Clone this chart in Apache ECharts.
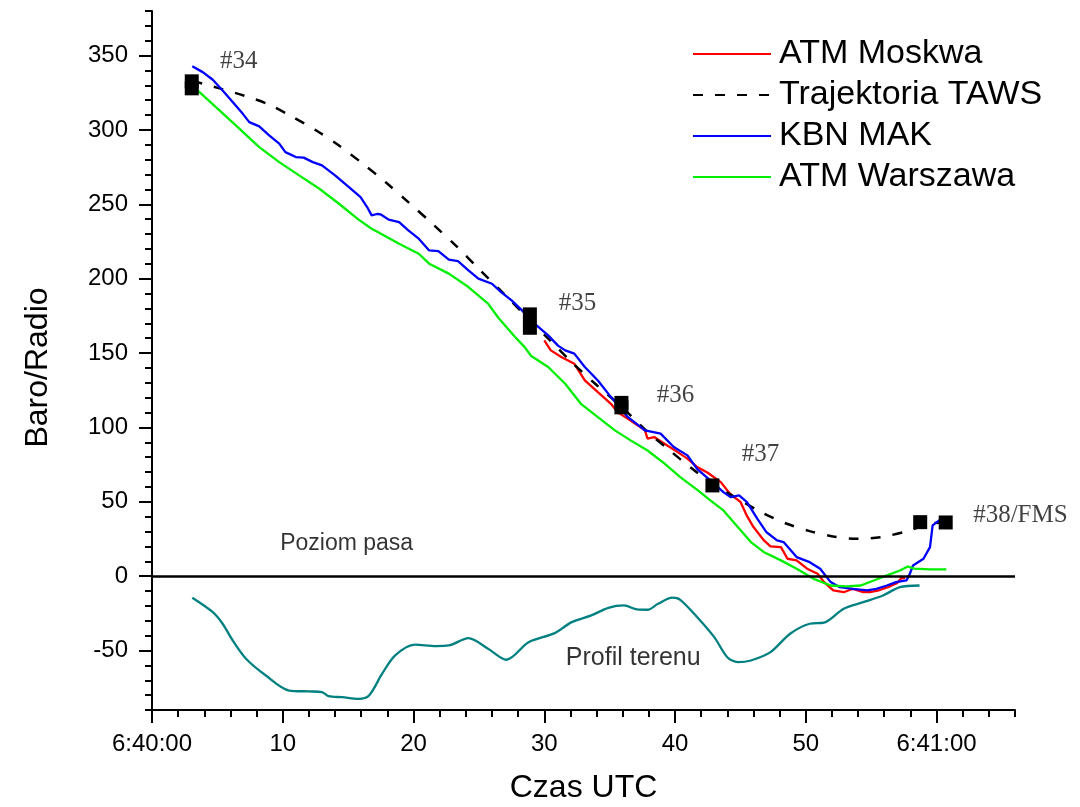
<!DOCTYPE html>
<html>
<head>
<meta charset="utf-8">
<title>Baro/Radio – Czas UTC</title>
<script src="https://cdn.jsdelivr.net/npm/echarts@6/dist/echarts.min.js"></script>
<style>
  html, body { margin: 0; padding: 0; background: #ffffff; }
  #chart { width: 1080px; height: 807px; }
</style>
</head>
<body>
<div id="chart"></div>
<script>
// Time is in seconds after 6:40:00 UTC, heights in metres.
const xTicks = [0, 10, 20, 30, 40, 50, 60];
const xTickLabels = ['6:40:00', '10', '20', '30', '40', '50', '6:41:00'];
const yTicks = [-50, 0, 50, 100, 150, 200, 250, 300, 350];

const atmMoskwa = [
  [30.0, 158.5], [30.5, 151.8], [31.3, 147.3], [32.3, 142.8], [33.1, 131.6], [34.1, 123.7],
  [35.1, 115.9], [35.6, 110.3], [36.6, 104.7], [37.7, 98], [37.9, 92.4], [38.4, 93.5],
  [39.2, 89], [40.2, 83.4], [40.95, 79], [41.7, 73.3], [42.5, 69.5], [43.5, 63.2],
  [44.2, 55.4], [45.0, 50], [45.5, 40.5], [46.0, 33], [46.8, 24], [47.3, 20],
  [48.1, 19.5], [48.6, 11.7], [49.3, 10.6], [50.1, 5], [50.9, 1.6], [51.4, -4],
  [52.1, -9.6], [52.9, -10.8], [53.6, -8.5], [54.4, -10.8], [54.9, -10.8], [55.6, -9.5],
  [56.4, -7], [57.0, -4.5], [57.3, -1.5], [57.6, -1.2]
];

const trajektoriaTaws = [
  [3.1, 333], [5.16, 328], [7.06, 323], [8.84, 317.5], [10.7, 309], [12.5, 300],
  [14.3, 289.5], [16.1, 277.5], [17.85, 265], [19.6, 251.5], [21.5, 236.5], [23.3, 221.7],
  [25.1, 205.6], [26.9, 190], [28.9, 172], [30.5, 158], [32.2, 143], [34.0, 128.5],
  [35.9, 114], [37.9, 97], [39.6, 84.5], [41.2, 73], [42.9, 62], [45.0, 51],
  [46.7, 42.5], [48.5, 35.4], [50.3, 30.3], [52.1, 26.7], [53.9, 25.1], [55.7, 26.2],
  [57.5, 29.6], [58.7, 33], [59.7, 35.5], [60.7, 36]
];

const kbnMak = [
  [3.08, 342.8], [3.88, 338.9], [4.65, 333.8], [5.4, 326.6], [6.17, 318.8], [6.93, 311],
  [7.44, 305.3], [8.2, 302.4], [8.96, 296.4], [9.73, 290.8], [10.2, 285.1], [11.0, 281.8],
  [11.6, 281.4], [12.3, 278.4], [13.0, 276.2], [14.0, 269.5], [15.06, 261.6], [15.95, 254.9],
  [16.45, 248.2], [16.8, 242.6], [17.2, 243.5], [17.5, 243.2], [18.1, 239.7], [18.9, 238.1],
  [19.6, 232.5], [20.4, 226.9], [21.2, 219], [21.9, 218.6], [22.7, 212.8], [23.4, 211.8],
  [24.2, 205.6], [24.96, 200], [26.0, 196.6], [26.7, 191], [27.5, 185.4], [28.3, 178.7],
  [29.3, 169.5], [30.3, 161.9], [31.05, 155], [31.6, 151.8], [32.3, 149.6], [33.1, 140.6],
  [34.1, 131.6], [35.1, 120.4], [36.4, 106.9], [37.7, 98], [38.9, 95.8], [39.9, 86.8],
  [40.95, 81.2], [41.7, 72], [42.7, 64.4], [43.7, 56.5], [44.25, 53.1], [44.9, 54.3],
  [45.5, 49.8], [46.3, 38.5], [47.0, 29.5], [47.8, 24], [48.3, 22.9], [49.3, 12.8],
  [50.3, 9.4], [51.1, 5], [51.9, -4], [52.6, -7.4], [53.6, -8.5], [54.7, -9.6],
  [55.4, -8.5], [56.2, -6.3], [56.9, -4], [57.7, -2.9], [57.96, 1.6], [58.2, 7.2],
  [59.0, 11.7], [59.5, 19.5], [59.7, 34.1], [60.2, 37.5], [60.6, 39.7]
];

const atmWarszawa = [
  [3.1, 328], [3.63, 325.5], [5.16, 313.2], [6.68, 300.9], [8.2, 288.5], [9.73, 278.4],
  [11.25, 269.5], [12.8, 260.5], [14.3, 250.4], [15.8, 239.7], [16.8, 233.6], [17.3, 231.3],
  [18.9, 223.5], [20.4, 216.8], [21.2, 210.1], [22.7, 203.4], [24.2, 194.4], [25.7, 183.2],
  [26.5, 173.6], [27.75, 161], [28.5, 154], [29.0, 148], [30.3, 140.6], [31.6, 129.4],
  [32.8, 115.9], [34.1, 106.9], [35.4, 98], [36.6, 91.3], [37.9, 84.5], [39.2, 75.6],
  [40.4, 66.6], [41.7, 58], [42.7, 50.9], [43.7, 44.2], [44.8, 33], [45.8, 22.9],
  [46.8, 16.1], [48.1, 10.6], [49.3, 5], [50.6, -1.8], [51.9, -6.3], [53.1, -6.9],
  [54.2, -6.3], [55.2, -2.9], [56.2, 0.5], [57.2, 3.8], [57.8, 6.5], [58.3, 5],
  [59.5, 4.5], [60.75, 4.5]
];

const profilTerenu = [
  [3.08, -14.5], [4.65, -24.2], [5.4, -32], [6.17, -43.2], [7.19, -55.5], [8.71, -66.8],
  [10.49, -76.9], [12.0, -77.5], [13.0, -78], [13.5, -80.7], [14.55, -81.4], [15.8, -82.5],
  [16.6, -80.2], [17.6, -65.6], [18.6, -53.3], [20.1, -46.1], [21.7, -47], [22.7, -46.6],
  [24.2, -41.7], [25.7, -48.8], [27.1, -56.2], [28.8, -44.4], [30.8, -38.3], [32.1, -30.9],
  [33.6, -26.4], [34.9, -21.3], [36.1, -19.7], [37.1, -22.4], [37.9, -22.6], [38.7, -18.6],
  [39.8, -14.5], [40.4, -15.9], [41.7, -27.6], [43.0, -41], [44.0, -54.5], [44.8, -57.8],
  [45.8, -56.7], [47.3, -51.1], [48.8, -38.7], [50.3, -32], [51.4, -31.3], [52.9, -21.9],
  [54.4, -17.5], [55.9, -13], [57.2, -7.4], [58.7, -6.3]
];

// TAWS warning points (#34 ... #38/FMS)
const tawsPoints = [
  [3.04, 332.7], [3.04, 328], [28.9, 176], [28.9, 167], [35.9, 116.5], [35.9, 113.5],
  [42.86, 61], [58.75, 36.3], [60.7, 36.1]
];

// Text notes anchored at [time, height]
const warningNotes = [
  [5.2, 345.8, '#34'], [31.1, 183.7, '#35'], [38.6, 121.3, '#36'],
  [45.1, 81.8, '#37'], [62.8, 40.5, '#38/FMS']
];
const areaNotes = [
  [9.8, 22, 'Poziom pasa'], [31.65, -55.3, 'Profil terenu']
];
const areaNoteFontSizes = [23, 25];

const X_MIN = 0, X_MAX = 66, Y_MIN = -90, Y_MAX = 380;

function range(from, to, step) {
  const out = [];
  for (let v = from; v <= to + 1e-9; v += step) out.push(Math.round(v * 1000) / 1000);
  return out;
}
const xMinor = range(X_MIN, X_MAX, 2);
const yMinor = range(Y_MIN, Y_MAX, 10);

const SANS = '"Liberation Sans", Arial, sans-serif';
const SERIF = '"Liberation Serif", "Times New Roman", serif';
const AXIS_COLOR = '#000000';
const LINE_W = 2.3;

const chart = echarts.init(document.getElementById('chart'), null, { renderer: 'canvas' });

const lineBase = {
  type: 'line',
  symbol: 'none',
  showSymbol: false,
  smooth: false,
  xAxisIndex: 0,
  yAxisIndex: 0,
  animation: false,
  silent: true
};

chart.setOption({
  backgroundColor: '#ffffff',
  animation: false,
  grid: {
    left: 152, right: 65, top: 11, bottom: 97,
    outerBoundsMode: 'none'
  },
  legend: {
    orient: 'vertical',
    left: 687,
    top: 32,
    itemWidth: 78,
    itemHeight: 14,
    itemGap: 7,
    selectedMode: false,
    itemStyle: { opacity: 0 },
    data: ['ATM Moskwa', 'Trajektoria TAWS', 'KBN MAK', 'ATM Warszawa'],
    textStyle: {
      fontFamily: SANS, fontSize: 34, lineHeight: 34, color: '#000',
      padding: [0, 0, 0, 3]
    }
  },
  xAxis: [
    {
      type: 'value', min: X_MIN, max: X_MAX, position: 'bottom',
      name: 'Czas UTC', nameLocation: 'middle', nameGap: 62,
      nameTextStyle: { fontFamily: SANS, fontSize: 32, color: '#000' },
      axisLine: { show: true, onZero: false, lineStyle: { color: AXIS_COLOR, width: 2 } },
      axisTick: { show: true, customValues: xTicks, length: 13, lineStyle: { color: AXIS_COLOR, width: 2 } },
      axisLabel: {
        show: true, customValues: xTicks, margin: 22,
        fontFamily: SANS, fontSize: 24, color: '#000',
        formatter: v => { const i = xTicks.indexOf(v); return i >= 0 ? xTickLabels[i] : ''; }
      },
      splitLine: { show: false }
    },
    {
      type: 'value', min: X_MIN, max: X_MAX, position: 'bottom', offset: 0,
      axisLine: { show: false, onZero: false },
      axisTick: { show: true, customValues: xMinor, length: 7, lineStyle: { color: AXIS_COLOR, width: 2 } },
      axisLabel: { show: false },
      splitLine: { show: false }
    }
  ],
  yAxis: [
    {
      type: 'value', min: Y_MIN, max: Y_MAX, position: 'left',
      name: 'Baro/Radio', nameLocation: 'middle', nameGap: 98, nameRotate: 90,
      nameTextStyle: { fontFamily: SANS, fontSize: 32, color: '#000', padding: [0, 14, 0, 0] },
      axisLine: { show: true, onZero: false, lineStyle: { color: AXIS_COLOR, width: 2 } },
      axisTick: { show: true, customValues: yTicks, length: 13, lineStyle: { color: AXIS_COLOR, width: 2 } },
      axisLabel: {
        show: true, customValues: yTicks, margin: 24,
        fontFamily: SANS, fontSize: 24, color: '#000'
      },
      splitLine: { show: false }
    },
    {
      type: 'value', min: Y_MIN, max: Y_MAX, position: 'left', offset: 0,
      axisLine: { show: false, onZero: false },
      axisTick: { show: true, customValues: yMinor, length: 7, lineStyle: { color: AXIS_COLOR, width: 2 } },
      axisLabel: { show: false },
      splitLine: { show: false }
    }
  ],
  series: [
    {
      ...lineBase,
      name: 'Profil terenu',
      data: profilTerenu,
      smooth: 0.3,
      lineStyle: { color: '#008080', width: LINE_W },
      itemStyle: { color: '#008080' },
      markLine: {
        silent: true,
        symbol: 'none',
        label: { show: false },
        lineStyle: { color: '#000', width: 2.5, type: 'solid' },
        data: [{ yAxis: 0 }],
        animation: false
      }
    },
    {
      ...lineBase,
      name: 'ATM Moskwa',
      data: atmMoskwa,
      lineStyle: { color: '#ff0000', width: LINE_W },
      itemStyle: { color: '#ff0000' }
    },
    {
      ...lineBase,
      name: 'Trajektoria TAWS',
      data: trajektoriaTaws,
      smooth: 0.3,
      lineStyle: { color: '#000000', width: 2.5, type: [10, 12] },
      itemStyle: { color: '#000000' }
    },
    {
      ...lineBase,
      name: 'KBN MAK',
      data: kbnMak,
      lineStyle: { color: '#0000ff', width: LINE_W },
      itemStyle: { color: '#0000ff' }
    },
    {
      ...lineBase,
      name: 'ATM Warszawa',
      data: atmWarszawa,
      lineStyle: { color: '#00ee00', width: LINE_W },
      itemStyle: { color: '#00ee00' }
    },
    {
      type: 'scatter',
      name: 'TAWS',
      xAxisIndex: 0, yAxisIndex: 0,
      silent: true,
      symbol: 'rect',
      symbolSize: 14,
      itemStyle: { color: '#000000', opacity: 1 },
      data: tawsPoints,
      z: 5
    },
    {
      type: 'scatter',
      name: 'warningNotes',
      xAxisIndex: 0, yAxisIndex: 0,
      silent: true,
      symbolSize: 0,
      data: warningNotes,
      label: {
        show: true,
        position: [0, 0],
        align: 'left',
        verticalAlign: 'middle',
        fontFamily: SERIF,
        fontSize: 25,
        color: '#111111',
        formatter: p => p.data[2]
      }
    },
    {
      type: 'scatter',
      name: 'areaNotes',
      xAxisIndex: 0, yAxisIndex: 0,
      silent: true,
      symbolSize: 0,
      data: areaNotes.map((d, i) => ({ value: d, label: { fontSize: areaNoteFontSizes[i] } })),
      label: {
        show: true,
        position: [0, 0],
        align: 'left',
        verticalAlign: 'middle',
        fontFamily: SANS,
        color: '#000000',
        formatter: p => p.value[2]
      }
    }
  ]
});
</script>
</body>
</html>
